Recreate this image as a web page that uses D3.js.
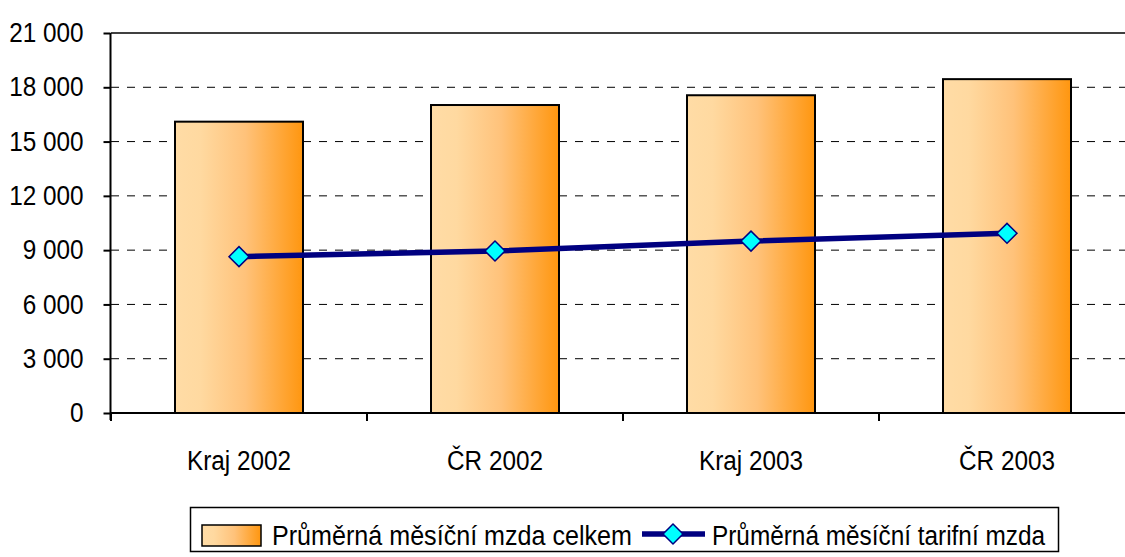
<!DOCTYPE html>
<html><head><meta charset="utf-8">
<script src="https://cdn.jsdelivr.net/npm/d3@7"></script>
<style>body{margin:0;background:#fff}svg{display:block;font-family:"Liberation Sans",Arial,sans-serif}</style>
</head><body><svg id="c" width="1125" height="557"></svg>
<script>
const categories = ["Kraj 2002", "ČR 2002", "Kraj 2003", "ČR 2003"];
const totalWage = [16100, 17020, 17560, 18450];
const tariffWage = [8640, 8950, 9500, 9930];
const yTicks = [0, 3000, 6000, 9000, 12000, 15000, 18000, 21000];
const seriesNames = ["Průměrná měsíční mzda celkem", "Průměrná měsíční tarifní mzda"];

const FONT = "Liberation Sans, Arial, sans-serif";
const NARROW = 0.9;
const svg = d3.select("#c");
const x = d3.scaleBand().domain(categories).range([111, 1135]).paddingInner(0.5).paddingOuter(0.25);
const xc = d3.scaleBand().domain(categories).range([111, 1135]);
const y = d3.scaleLinear().domain([0, 21000]).range([413, 33]);
const fmt = v => d3.format(",")(v).replace(/,/g, " ");
function narrow(sel) {
  sel.each(function () {
    const w = this.getComputedTextLength();
    d3.select(this).attr("textLength", w * NARROW).attr("lengthAdjust", "spacingAndGlyphs");
  });
}

const defs = svg.append("defs");
const g = defs.append("linearGradient").attr("id", "bg").attr("x1", "0").attr("x2", "1").attr("y1", "0").attr("y2", "0");
g.append("stop").attr("offset", "0").attr("stop-color", "#FFDCA6");
g.append("stop").attr("offset", "0.2").attr("stop-color", "#FFD9A0");
g.append("stop").attr("offset", "0.55").attr("stop-color", "#FFC27A");
g.append("stop").attr("offset", "1").attr("stop-color", "#FF960F");

// gridlines
svg.append("g").selectAll("line").data(yTicks.filter(d => d > 0)).join("line")
  .attr("x1", 111).attr("x2", 1125).attr("y1", d => y(d)).attr("y2", d => y(d))
  .attr("stroke", "#000").attr("stroke-width", d => d === 21000 ? 1.6 : 1)
  .attr("stroke-dasharray", d => d === 21000 ? null : "8,8");

// bars
svg.append("g").selectAll("rect").data(categories).join("rect")
  .attr("x", d => x(d)).attr("width", x.bandwidth())
  .attr("y", (d, i) => y(totalWage[i])).attr("height", (d, i) => y(0) - y(totalWage[i]))
  .attr("fill", "url(#bg)").attr("stroke", "#000").attr("stroke-width", 2);

// y axis
const ya = svg.append("g").attr("transform", "translate(110.5,0)")
  .call(d3.axisLeft(y).tickValues(yTicks).tickFormat(fmt).tickSize(7).tickPadding(20));
ya.select(".domain").attr("stroke-width", 2).attr("d", "M0,33V420");
ya.selectAll(".tick line").attr("stroke-width", 2);
ya.selectAll("text").attr("font-size", 27).attr("fill", "#000").attr("font-family", FONT).call(narrow);

// x axis
const xa = svg.append("g").attr("transform", "translate(0,413)")
  .call(d3.axisBottom(xc).tickSize(0).tickPadding(38));
xa.select(".domain").attr("stroke-width", 2).attr("d", "M110,0H1125");
xa.selectAll("text").attr("font-size", 27).attr("fill", "#000").attr("font-family", FONT).call(narrow);
svg.append("g").selectAll("line").data(categories).join("line")
  .attr("x1", d => xc(d)).attr("x2", d => xc(d)).attr("y1", 413).attr("y2", 421)
  .attr("stroke", "#000").attr("stroke-width", 2);

// line
const pts = categories.map((c, i) => [xc(c) + xc.bandwidth() / 2, y(tariffWage[i])]);
svg.append("path").attr("d", d3.line()(pts)).attr("fill", "none").attr("stroke", "#000080").attr("stroke-width", 5.5);
const diamond = d3.symbol().type(d3.symbolSquare).size(200);
svg.append("g").selectAll("path").data(pts).join("path")
  .attr("d", diamond).attr("transform", d => `translate(${d[0]},${d[1]}) rotate(45)`)
  .attr("fill", "#00FFFF").attr("stroke", "#000080").attr("stroke-width", 1.5);

// legend
const lg = svg.append("g");
lg.append("rect").attr("x", 190.5).attr("y", 507.5).attr("width", 868).attr("height", 44)
  .attr("fill", "#fff").attr("stroke", "#000").attr("stroke-width", 1.5);
lg.append("rect").attr("x", 202).attr("y", 525).attr("width", 59).attr("height", 21)
  .attr("fill", "url(#bg)").attr("stroke", "#000").attr("stroke-width", 1.5);
lg.append("text").attr("x", 272).attr("y", 536).attr("dy", "0.35em").attr("font-size", 27).attr("font-family", FONT)
  .attr("textLength", 360).attr("lengthAdjust", "spacingAndGlyphs").text(seriesNames[0]);
lg.append("line").attr("x1", 642).attr("x2", 705).attr("y1", 534).attr("y2", 534)
  .attr("stroke", "#000080").attr("stroke-width", 5.5);
lg.append("path").attr("d", diamond).attr("transform", "translate(673,534) rotate(45)")
  .attr("fill", "#00FFFF").attr("stroke", "#000080").attr("stroke-width", 1.5);
lg.append("text").attr("x", 712).attr("y", 536).attr("dy", "0.35em").attr("font-size", 27).attr("font-family", FONT)
  .attr("textLength", 333).attr("lengthAdjust", "spacingAndGlyphs").text(seriesNames[1]);
</script></body></html>
